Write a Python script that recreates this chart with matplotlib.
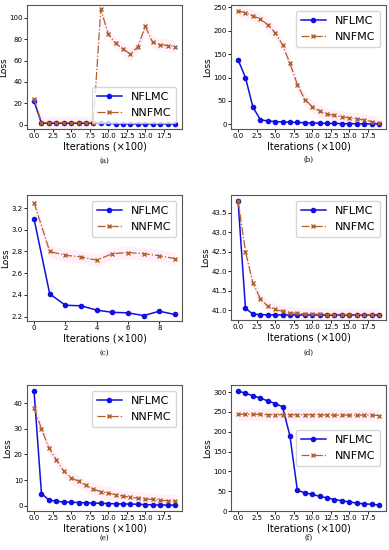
import matplotlib.pyplot as plt
import numpy as np

W, H = 389, 550

x20 = list(range(20))
x10 = list(range(10))

nflmc_a = [22, 1.5, 1.5, 1.5, 1.5, 1.5, 1.5, 1.5, 1.5, 1.5, 1.5, 0.8, 0.8, 0.8, 0.8, 0.8, 0.8, 0.8, 0.8, 0.8]
nnfmc_a = [24, 2, 2, 2, 2, 2, 2, 2, 2, 108, 85, 76, 71, 66, 73, 92, 77, 75, 74, 73]

nflmc_b = [138, 100, 37, 10, 7, 6, 5, 4.5, 4, 3.5, 3, 2.5, 2, 1.8, 1.5, 1.3, 1.2, 1, 1, 0.8]
nnfmc_b = [243, 238, 232, 225, 213, 196, 170, 130, 85, 53, 38, 28, 22, 19, 16, 14, 12, 9, 6, 3]

nflmc_c = [3.10, 2.41, 2.305, 2.30, 2.26, 2.24, 2.235, 2.21, 2.25, 2.22]
nnfmc_c = [3.25, 2.80, 2.765, 2.75, 2.72, 2.78, 2.79, 2.78, 2.76, 2.735]

nflmc_d = [43.8, 41.05, 40.9, 40.89, 40.88, 40.88, 40.88, 40.88, 40.88, 40.88,
           40.88, 40.88, 40.88, 40.88, 40.88, 40.88, 40.88, 40.88, 40.88, 40.88]
nnfmc_d = [43.8, 42.5, 41.7, 41.3, 41.1, 41.02, 40.97, 40.94, 40.92, 40.9,
           40.9, 40.9, 40.89, 40.89, 40.89, 40.89, 40.89, 40.89, 40.89, 40.89]

nflmc_e = [44.5, 4.8, 2.3, 1.8, 1.5, 1.4, 1.3, 1.2, 1.1, 1.0, 0.9, 0.8, 0.75, 0.7, 0.6, 0.5, 0.4, 0.35, 0.3, 0.3]
nnfmc_e = [38, 30, 22.5, 18, 13.5, 11, 9.5, 8, 6.5, 5.5, 5, 4.3, 3.8, 3.3, 3.0, 2.7, 2.5, 2.2, 2.0, 1.8]

nflmc_f = [303, 297, 291, 285, 278, 271, 263, 189, 52, 46, 42, 37, 33, 29, 26, 23, 20, 18, 17, 15]
nnfmc_f = [244, 244, 244, 244, 243, 243, 243, 243, 243, 243, 243, 243, 242, 242, 242, 242, 242, 242, 242, 241]

# panel: (x, nflmc, nnfmc, left, top, right, bottom px, ylim, yticks, legend loc, caption, caption y)
panels = [
    (x20, nflmc_a, nnfmc_a, 27, 5, 182, 129, (-4, 112), [0, 20, 40, 60, 80, 100], 'lower right', '(a)', 161),
    (x20, nflmc_b, nnfmc_b, 231, 5, 386, 129, (-10, 255), [0, 50, 100, 150, 200, 250], 'upper right', '(b)', 160),
    (x10, nflmc_c, nnfmc_c, 27, 195, 182, 321, (2.16, 3.32), [2.2, 2.4, 2.6, 2.8, 3.0, 3.2], 'upper right', '(c)', 353),
    (x20, nflmc_d, nnfmc_d, 231, 195, 386, 320, (40.75, 43.95), [41.0, 41.5, 42.0, 42.5, 43.0, 43.5], 'upper right', '(d)', 353),
    (x20, nflmc_e, nnfmc_e, 27, 385, 182, 511, (-2, 47), [0, 10, 20, 30, 40], 'upper right', '(e)', 538),
    (x20, nflmc_f, nnfmc_f, 231, 385, 386, 511, (0, 318), [0, 50, 100, 150, 200, 250, 300], 'center right', '(f)', 538),
]

fig = plt.figure(figsize=(W / 100, H / 100), dpi=100)

for x, a, b, l, t, r, btm, ylim, yt, loc, cap, cy in panels:
    ax = fig.add_axes([l / W, 1 - btm / H, (r - l) / W, (btm - t) / H])
    band = (ylim[1] - ylim[0]) * 0.05
    ax.fill_between(x, np.array(b) - band, np.array(b) + band, color='#ff9ad5', alpha=0.15, lw=0)
    ax.plot(x, a, '-o', color='#1010e0', markersize=3, lw=1.1, label='NFLMC')
    ax.plot(x, b, '-.x', color='#b0602a', markersize=3, lw=0.9, label='NNFMC')
    ax.set_ylim(ylim)
    ax.set_yticks(yt)
    if len(x) == 10:
        ax.set_xticks([0, 2, 4, 6, 8])
    else:
        ax.set_xticks([0, 2.5, 5, 7.5, 10, 12.5, 15, 17.5])
    ax.tick_params(labelsize=5, length=2, pad=1, width=0.6)
    ax.set_xlabel('Iterations (\u00d7100)', fontsize=7, labelpad=1.5)
    ax.set_ylabel('Loss', fontsize=6.5, labelpad=1)
    ax.legend(loc=loc, fontsize=8, numpoints=1, handlelength=2.2,
              borderpad=0.5, labelspacing=0.5, handletextpad=0.8)
    for s in ax.spines.values():
        s.set_color('#555555')
        s.set_linewidth(0.8)
    fig.text(((l + r) / 2) / W, 1 - cy / H, cap, ha='center', va='center',
             fontsize=5, family='serif')

fig.savefig('out.png', dpi=100)
